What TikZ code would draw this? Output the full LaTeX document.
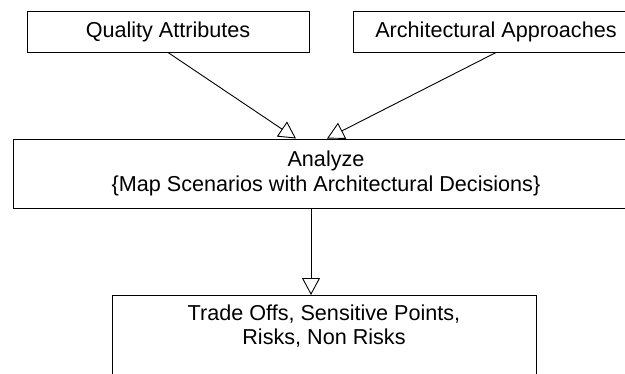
\documentclass[tikz,border=0pt]{standalone}
\usepackage{fontspec}
\setmainfont{Liberation Sans}
\usetikzlibrary{arrows.meta,positioning}

\begin{document}
\begin{tikzpicture}[x=1pt,y=-1pt,
  font=\fontsize{21.6}{24.5}\selectfont,
  box/.style={rectangle,draw=black,line width=1pt,inner sep=0pt,align=center},
  gen/.style={-{Triangle[open,length=17pt,width=18pt]},line width=0.9pt}]
% \draw[help lines] (0,0) grid (625,373);
\useasboundingbox (0,0) rectangle (625,373);
\clip (0,0) rectangle (625,373);
\node (qual) [box,minimum width=282pt,minimum height=41pt] at (168,31.5) {Quality Attributes};
\node (appr) [box,minimum width=286pt,minimum height=41pt] at (496,31.5) {Architectural Approaches};
\node (anal) [box,minimum width=626pt,minimum height=69pt] at (326,173.5) {Analyze\\\{Map Scenarios with Architectural Decisions\}};
\node (trade) [box,anchor=north,inner ysep=9pt] at (324,295) {\parbox[t][110pt][t]{424pt}{\centering Trade Offs, Sensitive Points,\\Risks, Non Risks}};
%
\path[gen](qual.south) edge ([xshift=-30pt]anal.north);
\path[gen](appr.south) edge ([xshift=1pt]anal.north);
\path[gen]([xshift=-15pt]anal.south) edge ([xshift=-15pt]anal.south |- trade.north);
\end{tikzpicture}
\end{document}
